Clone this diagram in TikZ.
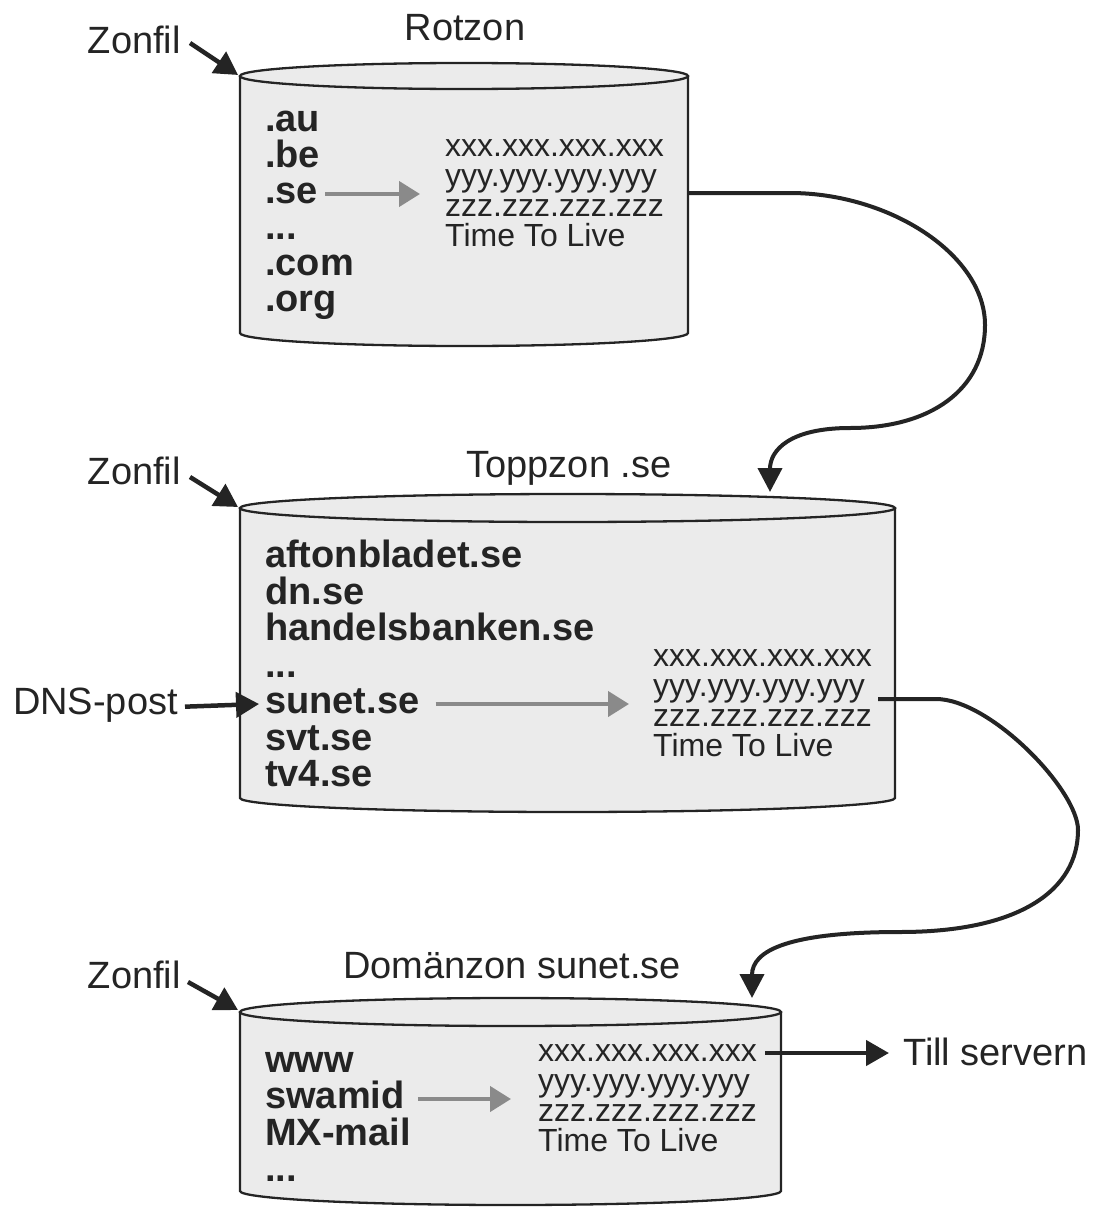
\documentclass[tikz,border=0pt]{standalone}
\usepackage{fontspec}
\setmainfont{Liberation Sans}
\usetikzlibrary{arrows.meta,calc}
\definecolor{cylfill}{HTML}{EBEBEB}
\definecolor{ink}{HTML}{242424}
\definecolor{garrow}{HTML}{8A8A8A}
\begin{document}
\begin{tikzpicture}[x=1pt,y=1pt,
  cylfillst/.style={fill=cylfill},
  cylline/.style={draw=ink, line width=2.3pt},
  lbl/.style={font=\fontsize{38}{40}\selectfont, text=ink, inner sep=0pt},
  bl/.style={font=\fontsize{38}{40}\selectfont\bfseries, text=ink, inner sep=0pt, anchor=west, text height=28.5pt, text depth=9.5pt},
  ip/.style={font=\fontsize{32}{34}\selectfont, text=ink, inner sep=0pt, anchor=west, text height=24pt, text depth=8pt},
  garr/.style={draw=garrow, line width=4.2pt, -{Triangle[length=21pt,width=25pt]}},
  barr/.style={draw=ink, line width=4.5pt, -{Triangle[length=23pt,width=25pt]}},
  carr/.style={draw=ink, line width=4pt, -{Triangle[length=24pt,width=24pt]}},
]
\useasboundingbox (0,0) rectangle (1093,-1207);

% ---------- cylinder 1 (Rotzon) ----------
\fill[cylfillst] (240,-76) -- (240,-333) arc[start angle=180,end angle=360,x radius=224pt,y radius=13pt] -- (688,-76) -- cycle;
\draw[cylline] (240,-76) -- (240,-333) arc[start angle=180,end angle=360,x radius=224pt,y radius=13pt] -- (688,-76);
\filldraw[cylfillst,cylline] (464,-76) ellipse [x radius=224pt,y radius=13pt];

% ---------- cylinder 2 (Toppzon) ----------
\fill[cylfillst] (240,-508) -- (240,-798) arc[start angle=180,end angle=360,x radius=327.5pt,y radius=14pt] -- (895,-508) -- cycle;
\draw[cylline] (240,-508) -- (240,-798) arc[start angle=180,end angle=360,x radius=327.5pt,y radius=14pt] -- (895,-508);
\filldraw[cylfillst,cylline] (567.5,-508) ellipse [x radius=327.5pt,y radius=14pt];

% ---------- cylinder 3 (Domänzon) ----------
\fill[cylfillst] (240,-1012) -- (240,-1191) arc[start angle=180,end angle=360,x radius=270.5pt,y radius=14pt] -- (781,-1012) -- cycle;
\draw[cylline] (240,-1012) -- (240,-1191) arc[start angle=180,end angle=360,x radius=270.5pt,y radius=14pt] -- (781,-1012);
\filldraw[cylfillst,cylline] (510.5,-1012) ellipse [x radius=270.5pt,y radius=14pt];

% ---------- titles and labels ----------
\node[lbl,anchor=base] (t1) at (465,-41) {Rotzon};
\node[lbl,anchor=base] (t2) at (569,-477) {Toppzon .se};
\node[lbl,anchor=base] (t3) at (512,-978) {Domänzon sunet.se};
\node[lbl,anchor=base east] (z1) at (181,-53) {Zonfil};
\node[lbl,anchor=base east] (z2) at (181,-484) {Zonfil};
\node[lbl,anchor=base east] (z3) at (181,-988) {Zonfil};
\node[lbl,anchor=base east] (dns) at (178,-714) {DNS-post};
\node[lbl,anchor=base west] (till) at (903,-1065) {Till servern};

\coordinate (c1tl) at (238,-75);
\coordinate (c2tl) at (238,-507);
\coordinate (c3tl) at (238,-1010);

% ---------- cylinder 1 content ----------
\node[bl] (a1) at (265,-122) {.au};
\node[bl] (a2) at (265,-158) {.be};
\node[bl] (a3) at (265,-194) {.se};
\node[bl] (a4) at (265,-230) {...};
\node[bl] (a5) at (265,-266) {.com};
\node[bl] (a6) at (265,-302) {.org};
\node[ip] (p1x) at (445,-148) {xxx.xxx.xxx.xxx};
\node[ip] (p1y) at (445,-178) {yyy.yyy.yyy.yyy};
\node[ip] (p1z) at (445,-208) {zzz.zzz.zzz.zzz};
\node[ip] (p1t) at (445,-238) {Time To Live};

% ---------- cylinder 2 content ----------
\node[bl] (b1) at (265,-558) {aftonbladet.se};
\node[bl] (b2) at (265,-594.5) {dn.se};
\node[bl] (b3) at (265,-631) {handelsbanken.se};
\node[bl] (b4) at (265,-667.5) {...};
\node[bl] (b5) at (265,-704) {sunet.se};
\node[bl] (b6) at (265,-740.5) {svt.se};
\node[bl] (b7) at (265,-777) {tv4.se};
\node[ip] (p2x) at (653,-658) {xxx.xxx.xxx.xxx};
\node[ip] (p2y) at (653,-688) {yyy.yyy.yyy.yyy};
\node[ip] (p2z) at (653,-718) {zzz.zzz.zzz.zzz};
\node[ip] (p2t) at (653,-748) {Time To Live};

% ---------- cylinder 3 content ----------
\node[bl] (d1) at (265,-1062.5) {www};
\node[bl] (d2) at (265,-1099) {swamid};
\node[bl] (d3) at (265,-1135.5) {MX-mail};
\node[bl] (d4) at (265,-1172) {...};
\node[ip] (p3x) at (538,-1053) {xxx.xxx.xxx.xxx};
\node[ip] (p3y) at (538,-1083) {yyy.yyy.yyy.yyy};
\node[ip] (p3z) at (538,-1113) {zzz.zzz.zzz.zzz};
\node[ip] (p3t) at (538,-1143) {Time To Live};

% ---------- connector end points ----------
\coordinate (c1out) at (688,-193);
\coordinate (c2in) at (770,-492);
\coordinate (c2out) at (878,-699);
\coordinate (c3in) at (752,-998);

% ---------- arrows ----------
\draw[barr] ([shift={(9,10)}]z1.base east) -- (c1tl);
\draw[barr] ([shift={(9,7)}]z2.base east) -- (c2tl);
\draw[barr] ([shift={(7,6)}]z3.base east) -- (c3tl);
\draw[barr] ($(dns.east)+(7,-2)$) -- ($(b5.west)+(-6,0)$);

\draw[garr] ($(a3.east)+(7,0)$) -- ($(a3.east -| p1x.west)+(-25,0)$);
\draw[garr] ($(b5.east)+(16,0)$) -- ($(b5.east -| p2x.west)+(-24,0)$);
\draw[garr] ($(d2.east)+(13,0)$) -- ($(d2.east -| p3x.west)+(-27,0)$);

\draw[barr] ($(p3x.east)+(8,0)$) -- ($(p3x.east -| till.west)+(-14,0)$);

\draw[carr] (c1out) -- (790,-193) .. controls (890,-193) and (985,-255) .. (985,-325)
  .. controls (985,-390) and (930,-428) .. (850,-428)
  .. controls (790,-428) and (770,-450) .. (c2in);
\draw[carr] (c2out) -- (936,-699) .. controls (990,-699) and (1078,-790) .. (1078,-830)
  .. controls (1078,-890) and (1020,-932) .. (900,-932)
  .. controls (790,-932) and (752,-950) .. (c3in);
\end{tikzpicture}
\end{document}
